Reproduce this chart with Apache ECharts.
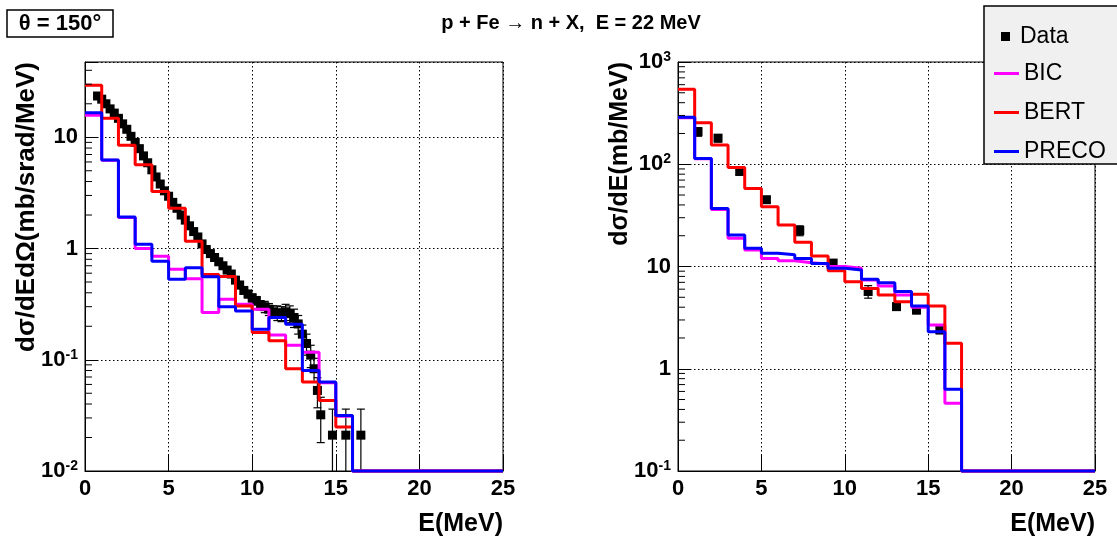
<!DOCTYPE html>
<html><head><meta charset="utf-8">
<script src="https://cdn.jsdelivr.net/npm/echarts@6/dist/echarts.min.js"></script>
<style>html,body{margin:0;padding:0;background:#fff}#c{width:1117px;height:541px}</style>
</head><body><div id="c"></div>
<script>
// ---------- data ----------
const binEdges = [0,1,2,3,4,5,6,7,8,9,10,11,12,13,14,15,16,17,18,19,20,21,22,23,24,25];

// left panel: dsigma/dE dOmega (mb/srad/MeV); 0 = empty bin
const leftBIC   = [15.8,6.2,1.9,1.0,0.85,0.65,0.535,0.266,0.35,0.316,0.285,0.167,0.135,0.117,0.062,0.031,0,0,0,0,0,0,0,0,0];
const leftBERT  = [29.4,14.8,8.5,5.65,3.26,2.3,1.16,0.585,0.56,0.305,0.176,0.148,0.083,0.063,0.043,0.0248,0,0,0,0,0,0,0,0,0];
const leftPRECO = [16.6,6.26,1.92,1.09,0.77,0.528,0.672,0.558,0.30,0.275,0.188,0.24,0.209,0.08,0.063,0.0316,0,0,0,0,0,0,0,0,0];

const leftDataE = [0.75,1.0,1.25,1.5,1.75,2.0,2.25,2.5,2.75,3.0,3.25,3.5,3.75,4.0,4.25,4.5,4.75,5.0,5.25,5.5,5.75,6.0,6.25,6.5,6.75,7.0,7.25,7.5,7.75,8.0,8.25,8.5,8.75,9.0,9.25,9.5,9.75,10.0,10.25,10.5,10.75,11.0,11.25,11.5,11.75,12.0,12.25,12.5,12.75,13.0,13.25,13.5,13.7,13.9,14.1,14.8,15.6,16.5];
const leftDataY = [23.5,22,20,18,16.5,14.8,13.2,11.8,10.2,9.0,7.9,6.8,5.9,5.1,4.4,3.8,3.3,2.95,2.6,2.3,2.0,1.8,1.6,1.42,1.27,1.10,0.98,0.90,0.83,0.76,0.70,0.64,0.59,0.52,0.47,0.42,0.39,0.36,0.34,0.31,0.30,0.285,0.27,0.265,0.26,0.27,0.26,0.24,0.21,0.17,0.14,0.11,0.083,0.053,0.032,0.021,0.021,0.021];
const leftDataErr = [1.2,1.1,1.0,0.9,0.8,0.7,0.6,0.55,0.5,0.45,0.4,0.35,0.3,0.26,0.22,0.19,0.17,0.15,0.13,0.12,0.1,0.09,0.08,0.07,0.07,0.06,0.05,0.05,0.05,0.045,0.045,0.04,0.04,0.035,0.035,0.03,0.03,0.03,0.03,0.03,0.035,0.035,0.035,0.04,0.04,0.045,0.045,0.045,0.04,0.035,0.03,0.025,0.02,0.016,0.014,0.015,0.015,0.015];

// right panel: dsigma/dE (mb/MeV)
const rightBIC   = [285,113,36,18.9,14.5,12.0,11.4,10.9,10.6,10.0,9.6,7.38,6.44,5.26,4.0,2.68,0.46,0,0,0,0,0,0,0,0];
const rightBERT  = [541,255,154,93,58,38.5,25.5,17.3,12.7,9.1,7.1,6.1,5.26,4.52,5.35,4.11,1.78,0,0,0,0,0,0,0,0];
const rightPRECO = [288,114,37,20.3,15.1,13.5,13.0,12.0,10.7,9.6,9.25,7.5,6.95,5.68,4.11,2.30,0.63,0,0,0,0,0,0,0,0];

const rightDataE = [1.2,2.4,3.7,5.3,7.3,9.3,11.4,13.1,14.3,15.7];
const rightDataY = [208,180,85,45,22.5,10.8,5.7,4.05,3.75,2.4];
const rightDataErr = [20,15,6,3,2.5,0.6,0.8,0.3,0.3,0.2];

const seriesNames = ['Data','BIC','BERT','PRECO'];
const seriesColors = {BIC:'#ff00ff', BERT:'#ff0000', PRECO:'#0000ff'};

const X_MIN = 0, X_MAX = 25, X_STEP = 5;
const LEFT_YMIN = 0.01, LEFT_YMAX = 47.5;
const RIGHT_YMIN = 0.1, RIGHT_YMAX = 1000;

const titleText = 'p + Fe \u2192 n + X,  E = 22 MeV';
const angleText = '\u03b8 = 150\u00b0';
const xTitle = 'E(MeV)';
const leftYTitle = 'd\u03c3/dEd\u03a9(mb/srad/MeV)';
const rightYTitle = 'd\u03c3/dE(mb/MeV)';

// ---------- helpers ----------
const FONT = '"Liberation Sans", Arial, sans-serif';

function histPoints(vals, floor) {
  const pts = [];
  for (let i = 0; i < vals.length; i++) pts.push([binEdges[i], vals[i] > 0 ? vals[i] : floor]);
  const last = vals[vals.length - 1] > 0 ? vals[vals.length - 1] : floor;
  pts.push([binEdges[vals.length], last]);
  return pts;
}
function minorTickValues(ymin, ymax) {
  const out = [];
  for (let e = Math.floor(Math.log10(ymin)); e <= Math.ceil(Math.log10(ymax)); e++) {
    for (let k = 2; k <= 9; k++) {
      const v = k * Math.pow(10, e);
      if (v > ymin && v < ymax) out.push([X_MIN, v]);
    }
  }
  return out;
}
function logLabel(v) {
  const l = Math.log10(v);
  const e = Math.round(l);
  if (Math.abs(l - e) > 1e-6) return '';
  if (e === 0) return '{b|1}';
  if (e === 1) return '{b|10}';
  return '{b|10}{s|' + e + '}';
}
const rich = {
  b: {fontSize: 22, fontWeight: 'bold', fontFamily: FONT, color: '#000', lineHeight: 24},
  s: {fontSize: 14, fontWeight: 'bold', fontFamily: FONT, color: '#000', lineHeight: 14, verticalAlign: 'top'}
};
function errRender(ymin) {
  return function (params, api) {
    const x = api.value(0), y = api.value(1), e = api.value(2);
    const lo = Math.max(y - e, ymin), hi = y + e;
    const pl = api.coord([x, lo]), ph = api.coord([x, hi]);
    const cw = 4;
    const ch = [
      {type: 'line', shape: {x1: pl[0], y1: pl[1], x2: ph[0], y2: ph[1]}, style: {stroke: '#000', lineWidth: 1.2}},
      {type: 'line', shape: {x1: ph[0] - cw, y1: ph[1], x2: ph[0] + cw, y2: ph[1]}, style: {stroke: '#000', lineWidth: 1.2}}
    ];
    if (lo > ymin) ch.push({type: 'line', shape: {x1: pl[0] - cw, y1: pl[1], x2: pl[0] + cw, y2: pl[1]}, style: {stroke: '#000', lineWidth: 1.2}});
    return {type: 'group', children: ch};
  };
}
function minorRender(params, api) {
  const p = api.coord([api.value(0), api.value(1)]);
  return {type: 'line', shape: {x1: p[0], y1: p[1], x2: p[0] + 7, y2: p[1]}, style: {stroke: '#000', lineWidth: 1}};
}
function xAxisCfg(gi) {
  return {
    type: 'value', gridIndex: gi, min: X_MIN, max: X_MAX, interval: X_STEP,
    axisLine: {show: true, lineStyle: {color: '#000', width: 1}},
    axisTick: {show: true, inside: true, length: 16, lineStyle: {color: '#000', width: 1}},
    axisLabel: {fontSize: 22, fontWeight: 'bold', fontFamily: FONT, color: '#000', margin: 7},
    splitLine: {show: true, lineStyle: {color: '#000', width: 1, type: [1.5, 2.5]}}
  };
}
function yAxisCfg(gi, mn, mx) {
  return {
    type: 'log', logBase: 10, gridIndex: gi, min: mn, max: mx,
    axisLine: {show: true, lineStyle: {color: '#000', width: 1}},
    axisTick: {show: true, inside: true, length: 12, lineStyle: {color: '#000', width: 1}},
    axisLabel: {formatter: logLabel, rich: rich, margin: 7},
    splitLine: {show: true, lineStyle: {color: '#000', width: 1, type: [1.5, 2.5]}}
  };
}
function histSeries(name, vals, floor, gi) {
  return {
    name: name, type: 'line', step: 'end', xAxisIndex: gi, yAxisIndex: gi,
    data: histPoints(vals, floor), showSymbol: false, symbol: 'none', clip: false,
    color: seriesColors[name],
    lineStyle: {color: seriesColors[name], width: 3}, itemStyle: {color: seriesColors[name]},
    animation: false, z: 3
  };
}
function zip3(a, b, c) { return a.map((v, i) => [v, b[i], c[i]]); }

const option = {
  backgroundColor: '#fff',
  animation: false,
  grid: [
    {left: 85, top: 62, width: 418, height: 409, show: true, borderColor: '#000', borderWidth: 1, backgroundColor: 'transparent'},
    {left: 678, top: 62, width: 417, height: 409, show: true, borderColor: '#000', borderWidth: 1, backgroundColor: 'transparent'}
  ],
  xAxis: [xAxisCfg(0), xAxisCfg(1)],
  yAxis: [yAxisCfg(0, LEFT_YMIN, LEFT_YMAX), yAxisCfg(1, RIGHT_YMIN, RIGHT_YMAX)],
  legend: [
    {data: [{name: 'Data', icon: 'rect'}], left: 996, top: 20, orient: 'vertical', itemWidth: 9, itemHeight: 9,
     selectedMode: false, z: 12, itemStyle: {opacity: 1}, textStyle: {fontSize: 23, fontFamily: FONT, color: '#000', padding: [0, 0, 0, 5]}},
    {data: [{name: 'BIC', icon: 'rect'}, {name: 'BERT', icon: 'rect'}, {name: 'PRECO', icon: 'rect'}],
     left: 989, top: 57, orient: 'vertical', itemWidth: 25, itemHeight: 3, itemGap: 16,
     selectedMode: false, z: 12, textStyle: {fontSize: 23, fontFamily: FONT, color: '#000'}}
  ],
  graphic: [
    {type: 'rect', z: 10, shape: {x: 7, y: 10, width: 106, height: 27}, style: {fill: '#fff', stroke: '#000', lineWidth: 1.5}},
    {type: 'text', z: 11, x: 60, y: 24, style: {text: angleText, font: 'bold 22px ' + FONT, fill: '#000', align: 'center', verticalAlign: 'middle'}},
    {type: 'text', z: 11, x: 571, y: 23, style: {text: titleText, font: 'bold 20px ' + FONT, fill: '#000', align: 'center', verticalAlign: 'middle'}},
    {type: 'text', z: 11, x: 503, y: 524, style: {text: xTitle, font: 'bold 25px ' + FONT, fill: '#000', align: 'right', verticalAlign: 'middle'}},
    {type: 'text', z: 11, x: 1095, y: 524, style: {text: xTitle, font: 'bold 25px ' + FONT, fill: '#000', align: 'right', verticalAlign: 'middle'}},
    {type: 'text', z: 11, x: 27, y: 62, rotation: Math.PI / 2, style: {text: leftYTitle, font: 'bold 26px ' + FONT, fill: '#000', align: 'right', verticalAlign: 'middle'}},
    {type: 'text', z: 11, x: 620, y: 62, rotation: Math.PI / 2, style: {text: rightYTitle, font: 'bold 25px ' + FONT, fill: '#000', align: 'right', verticalAlign: 'middle'}},
    {type: 'rect', z: 10, shape: {x: 984, y: 6, width: 140, height: 158}, style: {fill: '#f0f0f0', stroke: '#000', lineWidth: 1.5}}
  ],
  series: [
    // left panel
    {name: 'Data', type: 'custom', xAxisIndex: 0, yAxisIndex: 0, renderItem: errRender(LEFT_YMIN), data: zip3(leftDataE, leftDataY, leftDataErr), z: 2, silent: true, itemStyle: {color: '#000'}},
    {name: 'Data', type: 'scatter', xAxisIndex: 0, yAxisIndex: 0, symbol: 'rect', symbolSize: 9, data: leftDataE.map((e, i) => [e, leftDataY[i]]), itemStyle: {color: '#000', opacity: 1}, color: '#000', z: 2},
    histSeries('BIC', leftBIC, LEFT_YMIN, 0),
    histSeries('BERT', leftBERT, LEFT_YMIN, 0),
    histSeries('PRECO', leftPRECO, LEFT_YMIN, 0),
    {type: 'custom', xAxisIndex: 0, yAxisIndex: 0, renderItem: minorRender, data: minorTickValues(LEFT_YMIN, LEFT_YMAX), z: 4, silent: true},
    // right panel
    {name: 'Data', type: 'custom', xAxisIndex: 1, yAxisIndex: 1, renderItem: errRender(RIGHT_YMIN), data: zip3(rightDataE, rightDataY, rightDataErr), z: 2, silent: true, itemStyle: {color: '#000'}},
    {name: 'Data', type: 'scatter', xAxisIndex: 1, yAxisIndex: 1, symbol: 'rect', symbolSize: 9, data: rightDataE.map((e, i) => [e, rightDataY[i]]), itemStyle: {color: '#000', opacity: 1}, color: '#000', z: 2},
    histSeries('BIC', rightBIC, RIGHT_YMIN, 1),
    histSeries('BERT', rightBERT, RIGHT_YMIN, 1),
    histSeries('PRECO', rightPRECO, RIGHT_YMIN, 1),
    {type: 'custom', xAxisIndex: 1, yAxisIndex: 1, renderItem: minorRender, data: minorTickValues(RIGHT_YMIN, RIGHT_YMAX), z: 4, silent: true}
  ]
};
const chart = echarts.init(document.getElementById('c'), null, {renderer: 'canvas'});
chart.setOption(option);
</script>
</body></html>
